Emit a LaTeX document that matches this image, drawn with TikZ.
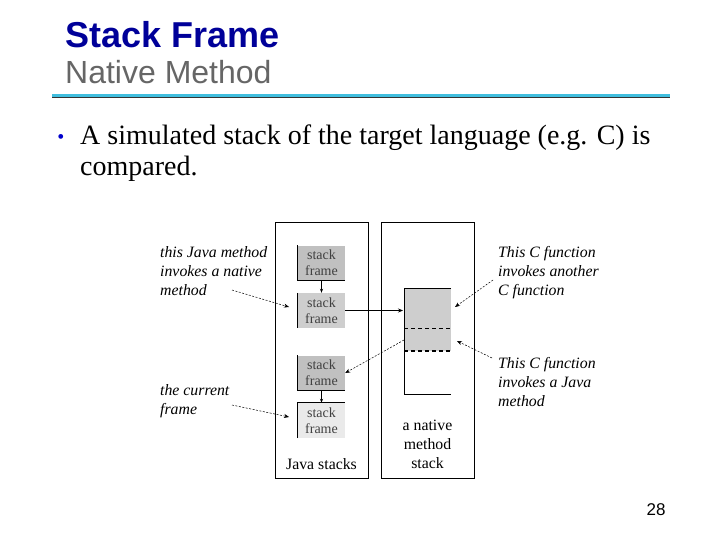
\documentclass[tikz,border=0pt]{standalone}
\usepackage{fontspec}
\setmainfont{Liberation Serif}
\setsansfont{Liberation Sans}
\usetikzlibrary{arrows.meta,positioning}
\definecolor{TitleClr}{RGB}{0,0,153}
\definecolor{SubClr}{RGB}{102,102,102}
\definecolor{RuleClr}{RGB}{64,190,222}
\definecolor{BulletClr}{RGB}{0,0,204}
\definecolor{DarkFrameClr}{RGB}{192,192,192}
\definecolor{FrameClr}{RGB}{206,206,206}
\definecolor{LightFrameClr}{RGB}{234,234,234}

\tikzset{
  stackframe/.style={fill=FrameClr,minimum width=47pt,minimum height=35pt,
    inner sep=0pt,align=center,text=black!75,
    font=\fontsize{14}{16}\selectfont},
  note/.style={anchor=base west,align=left,inner sep=0pt,
    font=\fontsize{15.8}{19}\selectfont\itshape},
  caption/.style={anchor=base,align=center,inner sep=0pt,
    font=\fontsize{15.8}{19}\selectfont},
  pointer/.style={-{Stealth[length=5pt,width=4pt]},line width=0.5pt,
    dash pattern=on 2pt off 1.5pt},
  link/.style={-{Stealth[length=5pt,width=4pt]},line width=0.6pt},
  edge/.style={line width=0.9pt}
}

\begin{document}
\begin{tikzpicture}[x=1pt,y=-1pt]
\useasboundingbox (0,0) rectangle (720,540);

% heading
\node[anchor=base west,inner sep=0pt,text=TitleClr,
  font=\fontsize{36}{36}\selectfont\sffamily\bfseries] (title) at (65,48) {Stack Frame};
\node[anchor=base west,inner sep=0pt,text=SubClr,
  font=\fontsize{32}{32}\selectfont\sffamily] (subtitle) at (65,84) {Native Method};
\draw[line width=1pt,black!80] (52,97.6) -- (670,97.6);
\draw[line width=2.6pt,RuleClr] (52,95.6) -- (670,95.6);

% bullet (multi-line nodes: base is the last line)
\node[anchor=base,inner sep=0pt,text=BulletClr,font=\fontsize{20}{20}\selectfont] (dot) at (61,144) {\textbullet};
\node[anchor=base west,align=left,inner sep=0pt,
  font=\fontsize{28}{31}\selectfont] (bullet) at (80,176)
  {A simulated stack of the target language (e.g. C) is\\compared.};

% the two boxes
\draw[line width=0.6pt] (275,222) rectangle (368,478);
\draw[line width=0.6pt] (381,222) rectangle (474,478);

% java frames
\node[stackframe,fill=DarkFrameClr] (f1) at (321.5,263) {stack\\frame};
\node[stackframe] (f2) at (321.5,310.5) {stack\\frame};
\node[stackframe,fill=DarkFrameClr] (f3) at (321.5,373) {stack\\frame};
\node[stackframe,fill=LightFrameClr] (f4) at (321.5,420.5) {stack\\frame};

\draw[edge] (f1.north west) -- (f1.south west) -- (f1.south east);
\draw[edge] (f2.north west) -- (f2.south west);
\draw[edge] (f3.north west) -- (f3.south west) -- (f3.south east);
\draw[edge] (f4.south west) -- (f4.north west) -- (f4.north east);

\draw[-{Stealth[length=4pt,width=3pt]},line width=0.6pt] (f1.south) -- (f2.north);
\draw[-{Stealth[length=4pt,width=3pt]},line width=0.6pt] (f3.south) -- (f4.north);

\node[caption] (jcap) at (321.5,469) {Java stacks};

% native stack
\fill[FrameClr] (404,288) rectangle (451,351);
\draw[line width=0.8pt] (451,288) -- (404,288) -- (404,394) -- (451,394);
\draw[line width=0.6pt,dash pattern=on 4pt off 3pt] (404,328) -- (451,328);
\draw[line width=1.3pt,dash pattern=on 4pt off 3pt] (404,351) -- (451,351);
\coordinate (nsin) at (403,310.5);
\coordinate (nsout) at (404,340);
\coordinate (ntop) at (455,307);
\coordinate (nmid) at (457,341);

\node[caption] (ncap) at (427.5,468) {a native\\method\\stack};

% notes
\node[note] (n1) at (160,295) {this Java method\\invokes a native\\method};
\node[note] (n2) at (160,414) {the current\\frame};
\node[note] (n3) at (498,295) {This C function\\invokes another\\C function};
\node[note] (n4) at (498,406) {This C function\\invokes a Java\\method};

\coordinate (n1e) at (232,290);
\coordinate (n2e) at (232,405);
\coordinate (n3e) at (493,280);
\coordinate (n4e) at (492,358);
\coordinate (f2in) at (289,307);
\coordinate (f4in) at (289,417);

% connectors
\draw[link] (f2.east) -- (nsin);
\draw[pointer] (nsout) -- (f3.east);
\draw[pointer] (n1e) -- (f2in);
\draw[pointer] (n2e) -- (f4in);
\draw[pointer] (n3e) -- (ntop);
\draw[pointer] (n4e) -- (nmid);

% page number
\node[anchor=base,inner sep=0pt,font=\fontsize{17}{17}\selectfont\sffamily] (page) at (656,515) {28};
\end{tikzpicture}
\end{document}
